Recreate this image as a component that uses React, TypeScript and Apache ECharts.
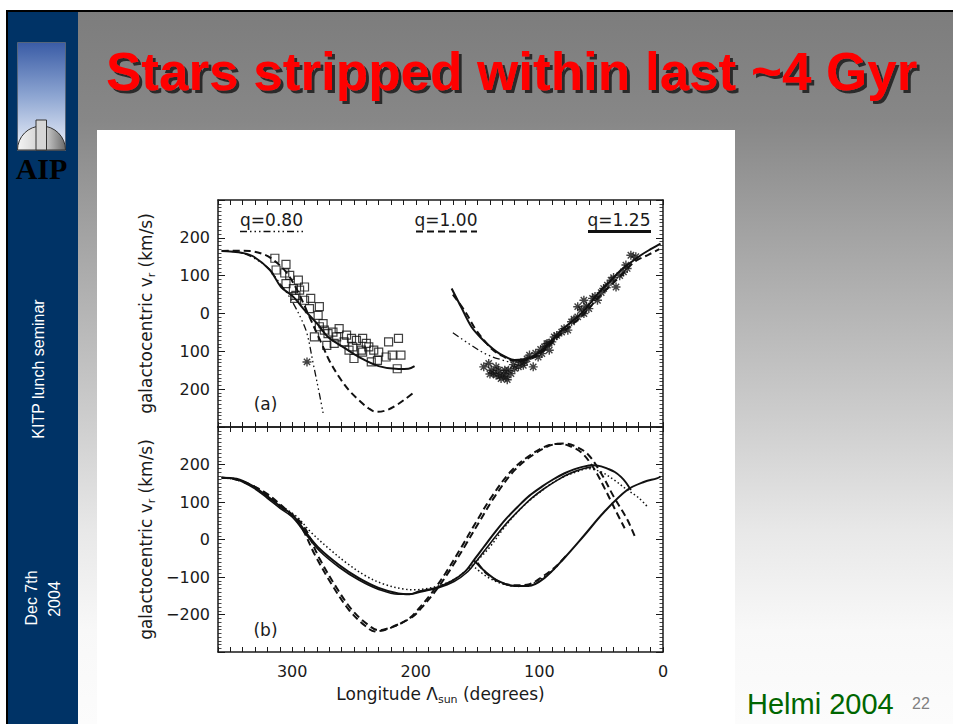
import React, { useEffect, useRef } from 'react';
import * as echarts from 'echarts';

// ---------------- data (longitude deg, v_r km/s) ----------------
const xTickLabels = [0, 100, 200, 300];
const yTickLabelsTop = ['200', '100', '0', '100', '200'];
const yTickLabelsBottom = ['200', '100', '0', '−100', '−200'];
const legendLabels = ['q=0.80', 'q=1.00', 'q=1.25'];
const panelLabels = ['(a)', '(b)'];

// panel (a)
const aSolidLeft = [[357,165],[350,164],[340,160],[331,150],[318,115],[309,70],[299,44],[290,9],[280,-26],[271,-62],[259,-88],[246,-115],[230,-139],[214,-147],[206,-146],[201,-139]];
const aDashedLeft = [[357,165],[345,166],[334,165],[322,155],[315,141],[305,110],[296,62],[286,-9],[275,-88],[270,-124],[262,-168],[254,-203],[246,-229],[238,-251],[232,-260],[224,-256],[216,-243],[208,-225],[201,-207]];
const aDashDotLeft = [[357,165],[345,163],[333,150],[320,122],[310,80],[305,58],[299,26],[293,-12],[288,-53],[283,-132],[278,-212],[275,-263]];
const aSquares = [[314,146],[305,130],[313,115],[306,107],[302,101],[295,88],[305,79],[299,66],[294,62],[297,48],[290,35],[285,40],[286,13],[278,18],[279,-5],[278,-35],[274,-44],[271,-53],[267,-49],[264,-62],[262,-40],[256,-57],[258,-75],[252,-66],[248,-71],[243,-66],[240,-79],[251,-88],[244,-97],[238,-88],[234,-97],[230,-102],[224,-115],[222,-75],[214,-66],[219,-110],[212,-110],[231,-124],[236,-128],[250,-119],[215,-146],[243,-102],[254,-97],[266,-79],[272,-84],[282,-62],[275,-27],[290,70],[298,40]];
const aStarsLeft = [[288,-128]];
const aSolidRight = [[171,66],[163,15],[155,-35],[148,-62],[141,-84],[135,-100],[130,-110],[120,-123],[109,-119],[98,-97],[90,-72],[82,-44],[74,-22],[66,0],[58,31],[50,62],[42,88],[34,115],[26,135],[18,154],[10,170],[2,185]];
const aDashedRight = [[170,50],[160,5],[152,-40],[145,-70],[138,-95],[130,-112],[120,-125],[109,-122],[98,-102],[82,-52],[66,-8],[50,50],[34,100],[23,137],[12,155],[3,170]];
const aDashDotRight = [[170,-51],[157,-80],[144,-106],[133,-120],[122,-128],[112,-126],[104,-115]];
const aStarsRight = [[145,-141],[139,-150],[135,-163],[131,-172],[127,-168],[123,-159],[135,-141],[117,-141],[112,-128],[108,-110],[105,-141],[101,-115],[96,-88],[92,-97],[88,-62],[82,-49],[77,-44],[74,-22],[69,18],[64,0],[60,13],[57,40],[53,35],[48,66],[42,88],[38,70],[32,110],[29,119],[26,154],[93,-79],[98,-106],[113,-137],[128,-150],[141,-132],[64,35],[69,-9],[137,-158],[133,-150],[129,-160],[125,-150],[120,-145],[115,-130],[110,-120],[103,-105],[99,-95],[94,-80],[90,-75],[86,-58],[80,-40],[72,-15],[66,10],[62,20],[55,45],[50,55],[45,75],[40,95],[35,100],[30,128],[22,150],[140,-160],[132,-165],[126,-175],[121,-135]];

// panel (b)
const bSolidA = [[357,165],[345,162],[331,141],[320,115],[310,89],[299,63],[288,15],[278,-24],[262,-68],[246,-103],[230,-129],[214,-144],[205,-146],[197,-138],[184,-129],[171,-111],[160,-85],[153,-55],[145,-20],[136,19],[127,55],[117,89],[108,117],[98,141],[89,160],[80,176],[72,187],[66,193],[57,198],[50,195],[45,189],[39,180],[34,167],[30,152],[26,132]];
const bSolidB = [[357,165],[345,160],[331,137],[320,110],[310,84],[299,57],[288,10],[278,-30],[262,-74],[246,-108],[230,-133],[214,-146],[203,-145],[195,-139],[182,-129],[169,-112],[158,-86],[151,-58],[143,-24],[134,14],[125,49],[115,83],[106,111],[96,136],[87,155],[78,172],[70,183],[63,190],[58,193]];
const bDotted = [[357,165],[340,155],[325,125],[310,92],[296,60],[285,20],[270,-25],[255,-65],[240,-98],[225,-120],[210,-132],[200,-134],[190,-130],[180,-122],[170,-108],[160,-85],[150,-55],[140,-20],[130,25],[120,65],[110,98],[100,125],[90,150],[80,168],[70,180],[61,189],[50,180],[40,160],[30,135],[20,112],[13,89]];
const bDashedA = [[357,165],[345,160],[323,128],[305,80],[291,37],[278,-50],[264,-129],[251,-190],[238,-229],[230,-242],[219,-233],[203,-207],[195,-181],[184,-137],[173,-85],[160,-16],[149,45],[136,115],[120,185],[104,228],[88,254],[80,256],[72,250],[61,228],[50,176],[40,115],[29,54],[22,2]];
const bDashedB = [[357,165],[343,158],[325,130],[308,85],[294,40],[281,-45],[267,-125],[254,-188],[241,-230],[233,-245],[222,-238],[206,-212],[198,-186],[187,-142],[176,-90],[163,-20],[152,42],[139,112],[123,182],[107,226],[92,252],[84,255],[76,250],[66,232],[56,190],[47,135],[38,75],[31,30]];
const bSolidWrap = [[153,-55],[144,-85],[133,-111],[120,-124],[109,-124],[96,-103],[80,-50],[64,10],[48,72],[29,132],[15,154],[5,163],[2,168]];
const bDashedWrap = [[150,-62],[143,-90],[131,-115],[119,-122],[108,-119],[98,-100],[86,-70],[77,-38]];
const bDottedWrap = [[152,-75],[142,-100],[130,-118],[117,-125],[104,-115],[92,-90],[84,-66]];

// ---------------- styles ----------------
const FONT = 'DejaVu Sans';
const INK = '#1a1a1a';
const DASH = [7, 4];
const DOT = [1.5, 2.5];
const DASHDOT3 = [7, 3, 1.5, 3, 1.5, 3, 1.5, 3];

const ASTERISK = 'path://M5,0L5,10M0,5L10,5M1.5,1.5L8.5,8.5M1.5,8.5L8.5,1.5';

function curve(data: number[][], grid: number, type: any, width: number) {
  return {
    type: 'line', data, xAxisIndex: grid * 2, yAxisIndex: grid * 2,
    smooth: 0.35, symbol: 'none', silent: true, z: 3,
    lineStyle: { color: '#111', width, type },
  };
}

function xAx(grid: number, labels: boolean, position: string) {
  return {
    type: 'value', gridIndex: grid, position, min: 0, max: 360, interval: 10, inverse: true,
    axisLine: { show: true, onZero: false, lineStyle: { color: INK, width: 1.5 } },
    axisTick: { show: true, inside: true, length: 5, lineStyle: { color: INK, width: 1 } },
    axisLabel: {
      show: labels, interval: 0, margin: 11, fontFamily: FONT, fontSize: 16, color: INK,
      formatter: (v: number) => (xTickLabels.indexOf(v) >= 0 ? String(v) : ''),
    },
    splitLine: { show: false },
    name: labels && grid === 1 ? 'Longitude Λ{s|sun} (degrees)' : '',
    nameLocation: 'middle', nameGap: 31,
    nameTextStyle: {
      fontFamily: FONT, fontSize: 17, color: INK, lineHeight: 22,
      rich: { s: { fontFamily: FONT, fontSize: 11, color: INK, lineHeight: 12, verticalAlign: 'bottom' } },
    },
  };
}

function yAx(grid: number, labels: string[] | null, position: string) {
  return {
    type: 'value', gridIndex: grid, position, min: -300, max: 300, interval: 100,
    axisLine: { show: true, onZero: false, lineStyle: { color: INK, width: 1.5 } },
    axisTick: { show: true, inside: true, length: 7, lineStyle: { color: INK, width: 1 } },
    minorTick: { show: true, splitNumber: 10, length: 3.5, lineStyle: { color: INK, width: 0.8 } },
    axisLabel: {
      show: !!labels, margin: 8, fontFamily: FONT, fontSize: 16, color: INK,
      formatter: (v: number) => {
        if (!labels) return '';
        const idx = (200 - v) / 100;
        return idx >= 0 && idx < labels.length ? labels[idx] : '';
      },
    },
    splitLine: { show: false },
    name: labels ? 'galactocentric v{r|r} (km/s)' : '',
    nameLocation: 'middle', nameGap: 61,
    nameTextStyle: {
      fontFamily: FONT, fontSize: 17, color: INK, lineHeight: 22,
      rich: { r: { fontFamily: FONT, fontSize: 11, color: INK, lineHeight: 12, verticalAlign: 'bottom' } },
    },
  };
}

function txt(text: string, x: number, y: number, size: number, color: string, opts: any = {}) {
  return {
    type: 'text', x, y, z: 20, rotation: opts.rotation || 0,
    style: {
      text, fill: color, fontSize: size, fontFamily: opts.family || FONT,
      fontWeight: opts.weight || 'normal', align: opts.align || 'center', verticalAlign: 'middle',
      ...(opts.extra || {}),
    },
  };
}

export default function App() {
  const ref = useRef<HTMLDivElement>(null);
  useEffect(() => {
    const chart = echarts.init(ref.current!, null, { renderer: 'svg' });
    const option: any = {
      animation: false,
      grid: [
        { left: 218, right: 290, top: 200, height: 227 },
        { left: 218, right: 290, top: 427, height: 225 },
      ],
      xAxis: [xAx(0, false, 'bottom'), xAx(0, false, 'top'), xAx(1, true, 'bottom'), xAx(1, false, 'top')],
      yAxis: [yAx(0, yTickLabelsTop, 'left'), yAx(0, null, 'right'), yAx(1, yTickLabelsBottom, 'left'), yAx(1, null, 'right')],
      series: [
        curve(aSolidLeft, 0, 'solid', 2),
        curve(aDashedLeft, 0, DASH, 2),
        curve(aDashDotLeft, 0, DASHDOT3, 1.3),
        curve(aSolidRight, 0, 'solid', 2),
        curve(aDashedRight, 0, DASH, 2),
        curve(aDashDotRight, 0, DASHDOT3, 1.3),
        {
          type: 'scatter', data: aSquares, xAxisIndex: 0, yAxisIndex: 0, symbol: 'rect', symbolSize: 8, silent: true, z: 4,
          itemStyle: { color: 'transparent', borderColor: '#111', borderWidth: 1.2 },
        },
        {
          type: 'scatter', data: aStarsLeft.concat(aStarsRight), xAxisIndex: 0, yAxisIndex: 0, symbol: ASTERISK, symbolSize: 9, silent: true, z: 4,
          itemStyle: { color: 'transparent', borderColor: '#111', borderWidth: 1.4 },
        },
        curve(bSolidA, 1, 'solid', 2),
        curve(bSolidB, 1, 'solid', 1.6),
        curve(bDotted, 1, DOT, 1.5),
        curve(bDashedA, 1, DASH, 2),
        curve(bDashedB, 1, DASH, 2),
        curve(bSolidWrap, 1, 'solid', 2),
        curve(bDashedWrap, 1, DASH, 2),
        curve(bDottedWrap, 1, DOT, 1.5),
      ],
      graphic: {
        elements: [
          { type: 'rect', z: -10, shape: { x: 0, y: 0, width: 953, height: 724 }, style: { fill: '#ffffff' } },
          { type: 'rect', z: -10, shape: { x: 6, y: 10, width: 947, height: 714 }, style: { fill: '#000000' } },
          { type: 'rect', z: -10, shape: { x: 8, y: 12, width: 70, height: 712 }, style: { fill: '#003366' } },
          {
            type: 'rect', z: -10, shape: { x: 78, y: 12, width: 875, height: 712 },
            style: {
              fill: new echarts.graphic.LinearGradient(0, 0, 0, 1, [
                { offset: 0, color: '#7d7d7d' }, { offset: 0.152, color: '#878787' },
                { offset: 0.306, color: '#a2a2a2' }, { offset: 0.587, color: '#d0d0d0' },
                { offset: 0.728, color: '#e8e8e8' }, { offset: 0.868, color: '#f8f8f8' },
                { offset: 1, color: '#fcfcfc' },
              ]),
            },
          },
          // logo
          {
            type: 'rect', z: -9, shape: { x: 17.5, y: 42.5, width: 48, height: 108 },
            style: {
              fill: new echarts.graphic.LinearGradient(0, 0, 0, 1, [
                { offset: 0, color: '#3a5ca6' }, { offset: 0.5, color: '#8ea6d2' }, { offset: 1, color: '#eef2fa' },
              ]),
              stroke: '#55657a', lineWidth: 1,
            },
          },
          {
            type: 'sector', z: -8, shape: { cx: 41.5, cy: 150, r0: 0, r: 24, startAngle: Math.PI, endAngle: Math.PI * 2 },
            style: {
              fill: new echarts.graphic.LinearGradient(0, 0, 1, 0, [
                { offset: 0, color: '#f4f4f4' }, { offset: 0.6, color: '#c8c8c8' }, { offset: 1, color: '#6a6a6a' },
              ]),
              stroke: '#333', lineWidth: 1,
            },
          },
          { type: 'rect', z: -7, shape: { x: 36, y: 120, width: 10.5, height: 30 }, style: { fill: '#d6d6d6', stroke: '#333', lineWidth: 1 } },
          txt('AIP', 41.5, 168, 30, '#000', { family: 'Liberation Serif', weight: 'bold' }),
          // white figure area
          { type: 'rect', z: -9, shape: { x: 97, y: 130, width: 638, height: 594 }, style: { fill: '#ffffff' } },
          // title
          txt('Stars stripped within last ~4 Gyr', 106, 71, 53, '#ff0000', {
            family: 'Liberation Sans', weight: 'bold', align: 'left',
            extra: { textShadowColor: '#2a2a2a', textShadowOffsetX: 3, textShadowOffsetY: 3, textShadowBlur: 0.5 },
          }),
          // sidebar texts
          txt('KITP lunch seminar', 38, 369, 16, '#ffffff', { family: 'Liberation Sans', rotation: Math.PI / 2 }),
          txt('Dec 7th', 31.5, 598, 16, '#ffffff', { family: 'Liberation Sans', rotation: Math.PI / 2 }),
          txt('2004', 54.5, 599, 16, '#ffffff', { family: 'Liberation Sans', rotation: Math.PI / 2 }),
          // footer
          txt('Helmi 2004', 747, 704, 29, '#006600', { family: 'Liberation Sans', align: 'left' }),
          txt('22', 912, 703.5, 16, '#808080', { family: 'Liberation Sans', align: 'left' }),
          // in-plot legend
          txt(legendLabels[0], 271.5, 220, 17, INK),
          txt(legendLabels[1], 446, 220, 17, INK),
          txt(legendLabels[2], 619, 220, 17, INK),
          { type: 'line', z: 20, shape: { x1: 240, y1: 231.5, x2: 304, y2: 231.5 }, style: { stroke: '#111', lineWidth: 1.5, lineDash: DASHDOT3 } },
          { type: 'line', z: 20, shape: { x1: 416, y1: 231.5, x2: 477, y2: 231.5 }, style: { stroke: '#111', lineWidth: 2, lineDash: DASH } },
          { type: 'line', z: 20, shape: { x1: 588, y1: 231.5, x2: 651, y2: 231.5 }, style: { stroke: '#111', lineWidth: 3 } },
          txt(panelLabels[0], 265.5, 404, 17, INK),
          txt(panelLabels[1], 265.5, 630, 17, INK),
        ],
      },
    };
    chart.setOption(option);
    return () => chart.dispose();
  }, []);
  return <div ref={ref} style={{ position: 'absolute', left: 0, top: 0, width: 953, height: 724 }} />;
}
